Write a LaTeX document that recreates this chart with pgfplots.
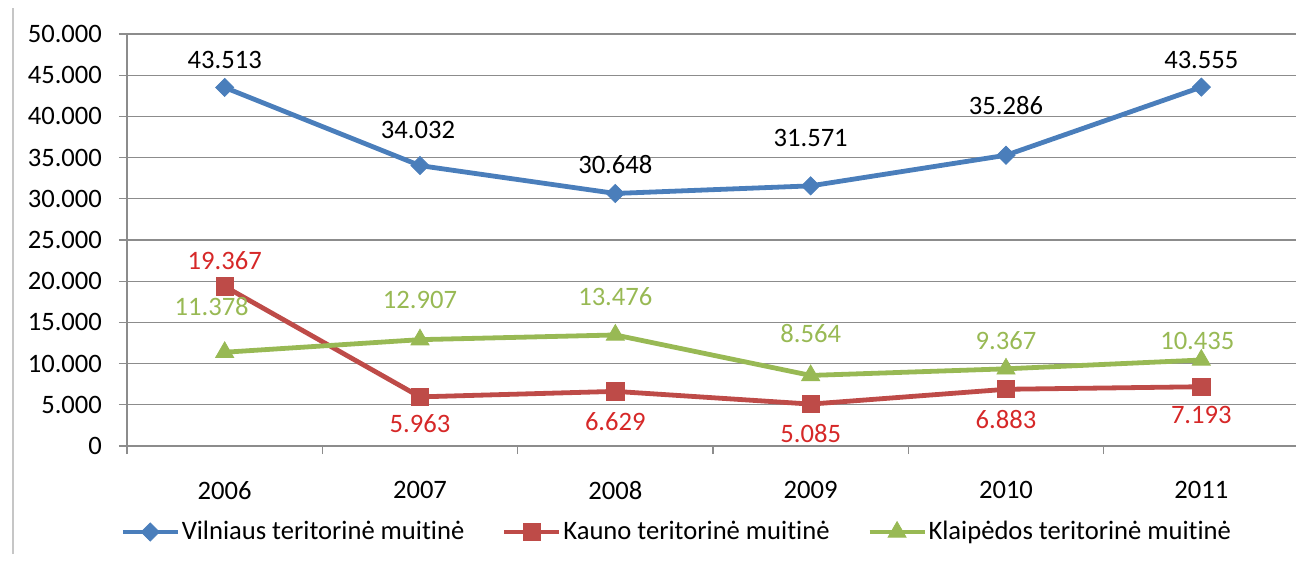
\documentclass[border=0pt]{standalone}
\usepackage{fontspec}
\setmainfont[Ligatures=NoCommon]{Carlito}
\usepackage{pgfplots}
\usepackage{pgfplotstable}
\pgfplotsset{compat=1.18}

\definecolor{vilc}{HTML}{4A7EBB}
\definecolor{kauc}{HTML}{BE4B48}
\definecolor{klac}{HTML}{98B954}
\definecolor{kaulab}{RGB}{214,40,40}
\definecolor{gridc}{HTML}{8C8C8C}
\newcommand\cf{\fontsize{13.3}{16}\selectfont}

% x = category index, dx/dy = label offset (pt)
\pgfplotstableread{
x y dx dy
0 43513 0 13.5
1 34032 -1 18
2 30648 0 14.5
3 31571 0 24
4 35286 0 25
5 43555 0 13.5
}\vilnius
\pgfplotstableread{
x y dx dy
0 19367 0 13
1 5963 0 -13.5
2 6629 0 -15
3 5085 0 -14.5
4 6883 0 -15
5 7193 0 -14
}\kaunas
\pgfplotstableread{
x y dx dy
0 11378 -6.5 23
1 12907 0 20
2 13476 0 19
3 8564 0 21
4 9367 0 14
5 10435 -2 9.5
}\klaipeda

\begin{document}
\begin{tikzpicture}
\useasboundingbox (-63.5pt,-58.5pt) rectangle (584.5pt,223pt);
\draw[gray!45, line width=0.6pt] (-57pt,-54pt) -- (-57pt,219pt);
\begin{axis}[
    at={(0,0)}, anchor=south west,
    scale only axis,
    width=586pt, height=206pt,
    xmin=-0.5, xmax=5.5,
    ymin=0, ymax=50000,
    axis lines*=left,
    axis line style={gridc, line width=0.6pt},
    tick align=outside,
    major tick length=4pt,
    tick style={gridc, line width=0.6pt},
    xtick={-0.5,0.5,...,5.5},
    xticklabels={},
    extra x ticks={0,1,2,3,4,5},
    extra x tick labels={2006,2007,2008,2009,2010,2011},
    extra x tick style={major tick length=0pt, grid=none},
    xticklabel style={font=\cf, yshift=-14pt},
    ytick={0,5000,...,50000},
    yticklabel style={font=\cf, xshift=-5pt},
    scaled y ticks=false,
    ymajorgrids,
    grid style={gridc, line width=0.6pt},
    /pgf/number format/.cd, 1000 sep={.}, assume math mode=true,
    /pgfplots/.cd,
    clip=false,
    nodes near coords,
    visualization depends on={\thisrow{dx} \as \dx},
    visualization depends on={\thisrow{dy} \as \dy},
    every node near coord/.append style={font=\cf, anchor=center, xshift=\dx, yshift=\dy},
    legend style={at={(0,0)}, anchor=west, xshift=-6.5pt, yshift=-43pt,
        draw=none, fill=none, font=\cf, legend columns=3,
        nodes={inner xsep=0.8pt},
        /tikz/every odd column/.append style={column sep=0pt},
        /tikz/every even column/.append style={column sep=18pt}},
    legend cell align=left,
    legend image code/.code={
        \draw[#1, mark repeat=2, mark phase=2] plot coordinates {(0pt,0pt) (13.75pt,0pt) (27.5pt,0pt)};
    },
]
\addplot[vilc, line width=2.4pt, mark=square*, mark size=3.2pt,
    mark options={rotate=45, line width=0.4pt},
    every node near coord/.append style={black}] table[x=x, y=y] {\vilnius};
\addlegendentry{Vilniaus teritorinė muitinė}
\addplot[kauc, line width=2.4pt, mark=square*, mark size=4.3pt,
    mark options={line width=0.4pt},
    every node near coord/.append style={kaulab}] table[x=x, y=y] {\kaunas};
\addlegendentry{Kauno teritorinė muitinė}
\addplot[klac, line width=2.4pt, mark=triangle*, mark size=5.2pt,
    mark options={line width=0.4pt},
    every node near coord/.append style={klac}] table[x=x, y=y] {\klaipeda};
\addlegendentry{Klaipėdos teritorinė muitinė}
\end{axis}
\end{tikzpicture}
\end{document}
